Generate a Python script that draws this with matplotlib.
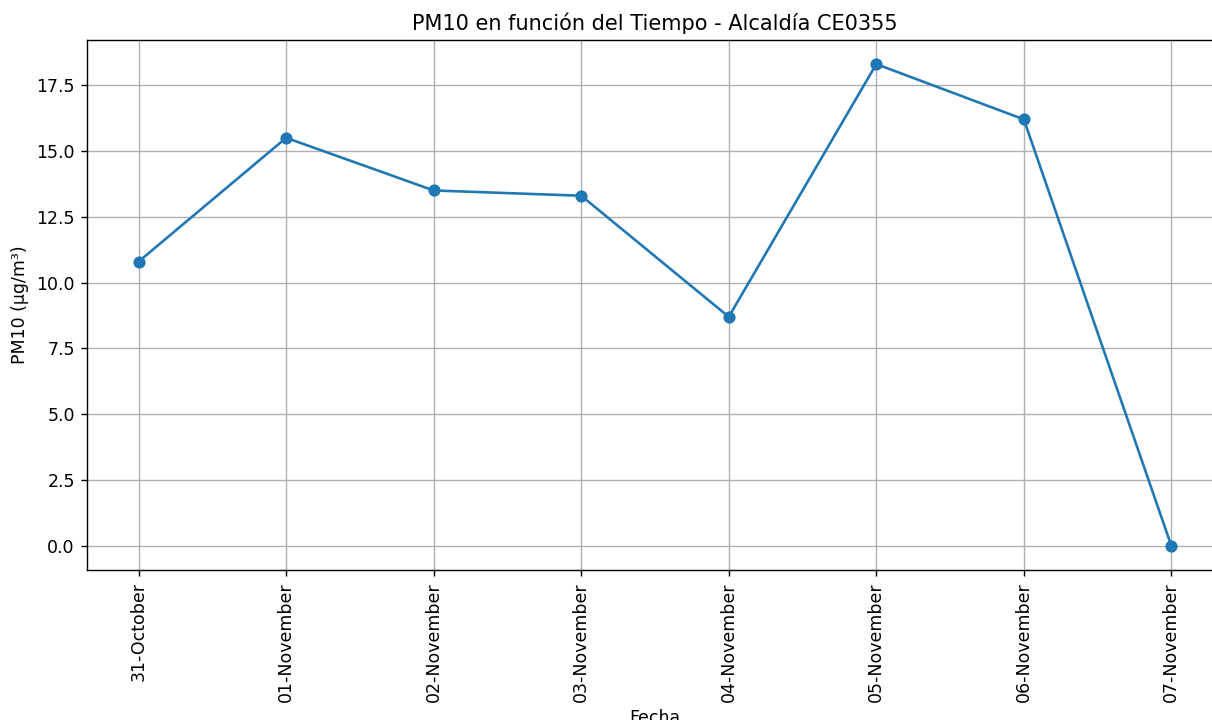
import matplotlib
matplotlib.use('Agg')
import matplotlib.pyplot as plt

fechas = ['31-October', '01-November', '02-November', '03-November',
          '04-November', '05-November', '06-November', '07-November']
pm10 = [10.8, 15.5, 13.5, 13.3, 8.7, 18.3, 16.2, 0.0]

# the reference is a crop of a larger render, axes run past the right edge
fig = plt.figure(figsize=(1212 / 125, 720 / 125), dpi=125)
ax = fig.add_axes([87 / 1212, 1 - 570 / 720, 1136 / 1212, 530 / 720])
ax.plot(fechas, pm10, marker='o')
ax.set_title('PM10 en función del Tiempo - Alcaldía CE0355')
ax.set_xlabel('Fecha')
ax.set_ylabel('PM10 (µg/m³)')
ax.grid(True)
plt.setp(ax.get_xticklabels(), rotation=90)

fig.savefig('out.png', dpi=125)
